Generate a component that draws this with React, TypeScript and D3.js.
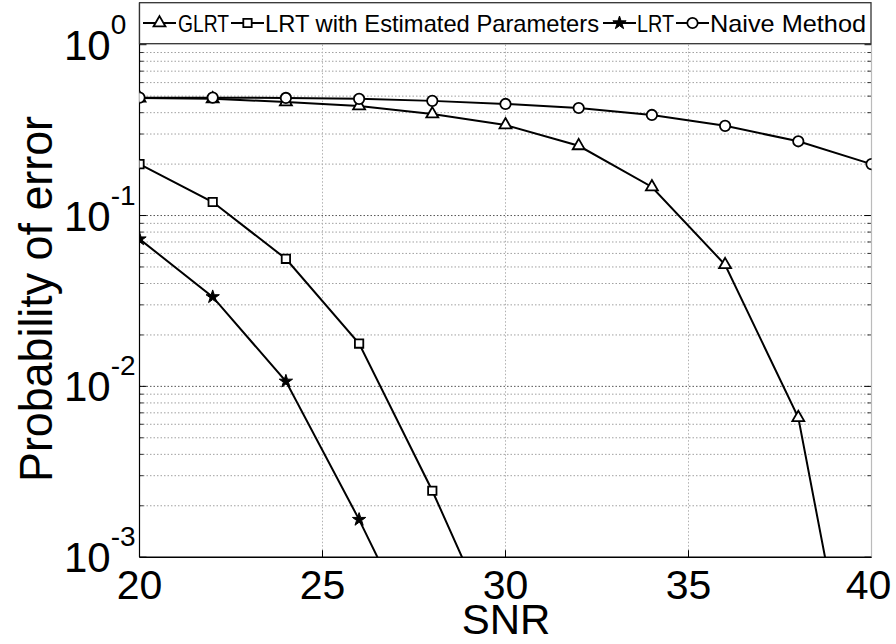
import React from "react";
import * as d3 from "d3";

// ---- data ----
const snrValues = [20, 22, 24, 26, 28, 30, 32, 34, 36, 38, 40];
const glrtValues = [0.487, 0.482, 0.462, 0.438, 0.393, 0.339, 0.256, 0.147, 0.0515, 0.00656, 0.000038];
const lrtEstValues = [0.2, 0.12, 0.0558, 0.0178, 0.00245, 0.00027];
const lrtValues = [0.0728, 0.0334, 0.0107, 0.00166, 0.00022];
const naiveValues = [0.49, 0.49, 0.488, 0.482, 0.469, 0.45, 0.426, 0.388, 0.335, 0.272, 0.2];

const xTicks = [20, 25, 30, 35, 40];
const yExponents = [0, -1, -2, -3];
const seriesNames = ["GLRT", "LRT with Estimated Parameters", "LRT", "Naive Method"];
const seriesMarkers = ["triangle", "square", "star", "circle"];

const FONT = "'Liberation Sans', Arial, Helvetica, sans-serif";

const W = 896;
const H = 644;
const L = 139.5;
const R = 871.5;
const T = 44.7;
const B = 557.2;

const x = d3.scaleLinear().domain([20, 40]).range([L, R]);
const y = d3.scaleLog().domain([1e-3, 1]).range([B, T]);

function Marker({ type, cx, cy }: { type: string; cx: number; cy: number }) {
  const common = { stroke: "#000", strokeWidth: 1.8 };
  if (type === "triangle") {
    const p = d3.symbol(d3.symbolTriangle, 62)()!;
    return <path d={p} transform={`translate(${cx},${cy})`} fill="#fff" {...common} />;
  }
  if (type === "square") {
    const p = d3.symbol(d3.symbolSquare, 70)()!;
    return <path d={p} transform={`translate(${cx},${cy})`} fill="#fff" {...common} />;
  }
  if (type === "star") {
    const p = d3.symbol(d3.symbolStar, 55)()!;
    return <path d={p} transform={`translate(${cx},${cy})`} fill="#000" stroke="#000" strokeWidth={1} />;
  }
  const p = d3.symbol(d3.symbolCircle, 85)()!;
  return <path d={p} transform={`translate(${cx},${cy})`} fill="#fff" {...common} />;
}

export default function App() {
  const series = [
    { name: seriesNames[0], marker: seriesMarkers[0], values: glrtValues },
    { name: seriesNames[1], marker: seriesMarkers[1], values: lrtEstValues },
    { name: seriesNames[2], marker: seriesMarkers[2], values: lrtValues },
    { name: seriesNames[3], marker: seriesMarkers[3], values: naiveValues },
  ];

  const line = d3
    .line<[number, number]>()
    .x((d) => x(d[0]))
    .y((d) => y(d[1]));

  const minorY: number[] = [];
  for (let e = -3; e < 0; e++) {
    for (let m = 2; m <= 9; m++) minorY.push(m * Math.pow(10, e));
  }
  const majorY = yExponents.map((e) => Math.pow(10, e));

  // legend layout: line start, text start, text length
  const legendLayout = [
    { lx: 143, tx: 178, tl: 51 },
    { lx: 231, tx: 265, tl: 334 },
    { lx: 603, tx: 637, tl: 37 },
    { lx: 676, tx: 710, tl: 156 },
  ];

  return (
    <svg
      width={W}
      height={H}
      style={{ position: "absolute", left: 0, top: 0, background: "#fff" }}
      fontFamily={FONT}
    >
      <defs>
        <clipPath id="plotClip">
          <rect x={L} y={T} width={R - L} height={B - T} />
        </clipPath>
      </defs>
      <rect x={0} y={0} width={W} height={H} fill="#fff" />

      {/* grid */}
      {minorY.map((v, i) => (
        <line key={"gy" + i} x1={L} x2={R} y1={y(v)} y2={y(v)} stroke="#a0a0a0" strokeWidth={1} strokeDasharray="1.5,2" />
      ))}
      {majorY.slice(1, 3).map((v, i) => (
        <line key={"gY" + i} x1={L} x2={R} y1={y(v)} y2={y(v)} stroke="#555" strokeWidth={1} strokeDasharray="1.5,2" />
      ))}
      {xTicks.slice(1, -1).map((t) => (
        <line key={"gx" + t} x1={x(t)} x2={x(t)} y1={T} y2={B} stroke="#b0b0b0" strokeWidth={1} strokeDasharray="1.5,2" />
      ))}

      {/* ticks */}
      {minorY.map((v, i) => (
        <g key={"ty" + i}>
          <line x1={L} x2={L + 4} y1={y(v)} y2={y(v)} stroke="#333" />
          <line x1={R - 4} x2={R} y1={y(v)} y2={y(v)} stroke="#333" />
        </g>
      ))}
      {majorY.map((v, i) => (
        <g key={"tY" + i}>
          <line x1={L} x2={L + 7} y1={y(v)} y2={y(v)} stroke="#000" />
          <line x1={R - 7} x2={R} y1={y(v)} y2={y(v)} stroke="#000" />
        </g>
      ))}
      {xTicks.map((t) => (
        <line key={"tx" + t} x1={x(t)} x2={x(t)} y1={B} y2={B - 7} stroke="#000" />
      ))}

      {/* axes */}
      <line x1={R} x2={R} y1={T} y2={B} stroke="#bbb" strokeWidth={1.2} />
      <line x1={L} x2={L} y1={3} y2={B} stroke="#000" strokeWidth={1.2} />
      <line x1={L} x2={R} y1={B} y2={B} stroke="#000" strokeWidth={1.5} />

      {/* series */}
      <g clipPath="url(#plotClip)">
        {series.map((s) => (
          <path
            key={s.name}
            d={line(s.values.map((v, i) => [snrValues[i], v] as [number, number]))!}
            fill="none"
            stroke="#000"
            strokeWidth={2}
          />
        ))}
        {series.map((s) =>
          s.values.map((v, i) =>
            v >= 1e-3 ? <Marker key={s.name + i} type={s.marker} cx={x(snrValues[i])} cy={y(v)} /> : null
          )
        )}
      </g>

      {/* y tick labels */}
      {yExponents.map((e) => (
        <text key={"yl" + e} x={64} y={y(Math.pow(10, e)) + 15} fontSize={42} fill="#000">
          10
          <tspan dy={-26} fontSize={28}>
            {e === 0 ? "0" : "-" + Math.abs(e)}
          </tspan>
        </text>
      ))}

      {/* x tick labels */}
      {xTicks.map((t) => (
        <text key={"xl" + t} x={x(t) - (t === 40 ? 3 : 0)} y={599} fontSize={41} textAnchor="middle" fill="#000">
          {t}
        </text>
      ))}

      {/* axis labels */}
      <text x={506} y={634} fontSize={42} textAnchor="middle" fill="#000">
        SNR
      </text>
      <text
        transform={`translate(52,299) rotate(-90)`}
        fontSize={47}
        textAnchor="middle"
        textLength={366}
        lengthAdjust="spacingAndGlyphs"
        fill="#000"
      >
        Probability of error
      </text>

      {/* legend */}
      <rect x={L} y={2.7} width={R - L - 0.5} height={41} fill="#fff" stroke="#333" strokeWidth={1.3} />
      {series.map((s, i) => {
        const lay = legendLayout[i];
        return (
          <g key={"lg" + i}>
            <line x1={lay.lx} x2={lay.lx + 33} y1={23} y2={23} stroke="#000" strokeWidth={2} />
            <Marker type={s.marker} cx={lay.lx + 16.5} cy={23} />
            <text
              x={lay.tx}
              y={31.5}
              fontSize={24}
              textLength={lay.tl}
              lengthAdjust="spacingAndGlyphs"
              fill="#000"
            >
              {s.name}
            </text>
          </g>
        );
      })}
    </svg>
  );
}
